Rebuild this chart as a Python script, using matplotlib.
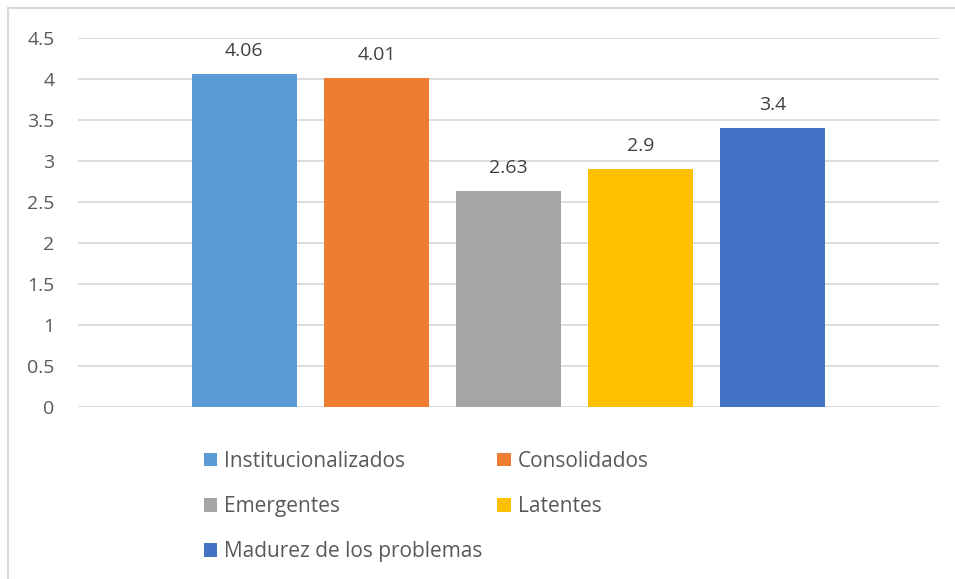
import matplotlib
matplotlib.use("Agg")
import matplotlib.pyplot as plt
from matplotlib.patches import Rectangle

categories = ["Institucionalizados", "Consolidados", "Emergentes", "Latentes",
              "Madurez de los problemas"]
values = [4.06, 4.01, 2.63, 2.9, 3.4]
value_labels = ["4.06", "4.01", "2.63", "2.9", "3.4"]
colors = ["#5B9BD5", "#ED7D31", "#A5A5A5", "#FFC000", "#4472C4"]
y_ticks = [0, 0.5, 1, 1.5, 2, 2.5, 3, 3.5, 4, 4.5]
y_tick_labels = ["0", "0.5", "1", "1.5", "2", "2.5", "3", "3.5", "4", "4.5"]

plt.rcParams["font.family"] = ["Open Sans", "DejaVu Sans"]

W, H = 955, 579
fig = plt.figure(figsize=(W / 100, H / 100), dpi=100)

# chart area frame
fig.patches.append(Rectangle((8 / W, -0.05), 1.2, 1 - 8 / H + 0.05,
                             transform=fig.transFigure, fill=False,
                             edgecolor="#D9D9D9", linewidth=1.5))

ax = fig.add_axes([78 / W, (H - 407) / H, (939 - 78) / W, (407 - 38) / H])

positions = [i - 2 for i in range(len(values))]
bars = []
for x, v, c, name in zip(positions, values, colors, categories):
    b = ax.bar(x, v, width=0.795, color=c, label=name, zorder=3)
    bars.append(b)

for x, v, lab in zip(positions, values, value_labels):
    ax.annotate(lab, (x, v), xytext=(0, 16.5), textcoords="offset points",
                ha="center", va="center", fontsize=14, color="#404040")

ax.set_xlim(-3.26, 3.26)
ax.set_ylim(0, 4.5)
ax.set_yticks(y_ticks)
ax.set_yticklabels(y_tick_labels)
ax.set_xticks([])
ax.tick_params(axis="y", length=0, pad=17, labelsize=14, labelcolor="#595959")
for lab in ax.get_yticklabels():
    lab.set_horizontalalignment("right")
ax.grid(axis="y", color="#D9D9D9", linewidth=1.3, zorder=0)
for s in ax.spines.values():
    s.set_visible(False)

order = [0, 2, 4, 1, 3]
handles = [bars[i] for i in order]
labels = [categories[i] for i in order]
leg = fig.legend(handles, labels, ncol=2, loc="upper left",
                 bbox_to_anchor=(204 / W, 1 - 451 / H),
                 frameon=False, fontsize=15, handlelength=0.63,
                 handleheight=0.63, handletextpad=0.35, labelspacing=1.16,
                 columnspacing=0.7, borderaxespad=0, borderpad=0)
for t in leg.get_texts():
    t.set_color("#595959")

fig.savefig("out.png", dpi=100)
